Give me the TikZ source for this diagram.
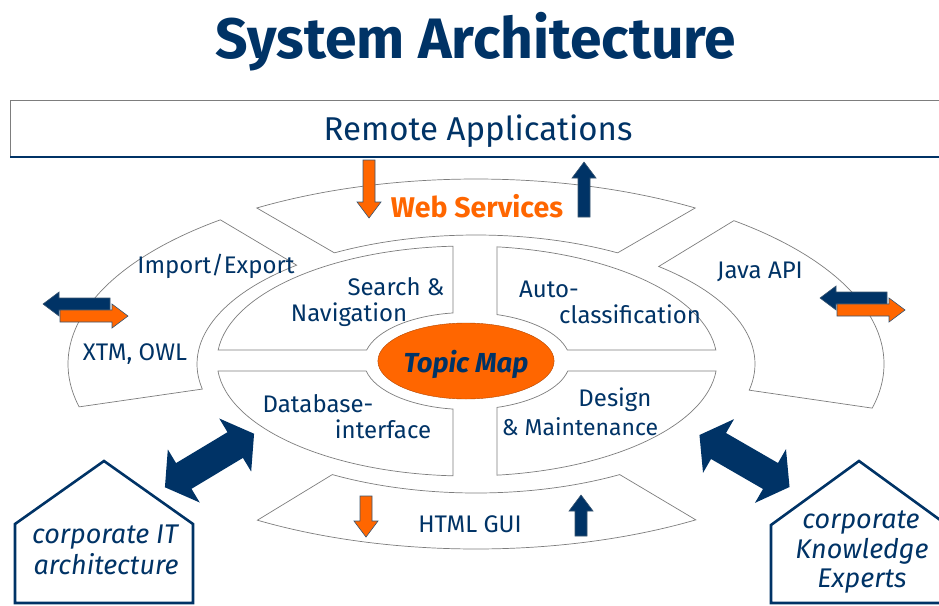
\documentclass[tikz,border=0pt]{standalone}
\usepackage{fontspec}
\setmainfont{Fira Sans}
\usetikzlibrary{shapes.geometric}
\definecolor{navy}{RGB}{0,51,102}
\definecolor{orng}{RGB}{255,102,0}
\definecolor{rim}{RGB}{125,125,125}

\begin{document}
\begin{tikzpicture}[x=1pt, y=-1pt,
    rim/.style={draw=rim, line width=0.7pt, fill=white},
    lbl/.style={text=navy, inner sep=0pt, anchor=base, font=\fontsize{24}{28}\selectfont},
    housetxt/.style={lbl, font=\fontsize{27}{31}\selectfont\itshape},
    house/.style={draw=navy, line width=2.6pt, fill=white},
    pics/barrow/.style args={#1/#2}{code={%
      \filldraw[fill=#2, draw=navy!55!gray, line width=0.6pt]
        (0,-6) -- (#1-16,-6) -- (#1-16,-12) -- (#1,0) -- (#1-16,12) -- (#1-16,6) -- (0,6) -- cycle;}},
    pics/dblarrow/.style={code={%
      \fill[navy] (-52,0) -- (-30,-31) -- (-30,-15) -- (30,-15) -- (30,-31) -- (52,0)
        -- (30,31) -- (30,15) -- (-30,15) -- (-30,31) -- cycle;}}]
  \useasboundingbox (0,0) rectangle (939,605);

  % title and remote box
  \node[lbl, font=\fontsize{57}{64}\selectfont\bfseries] (title) at (476,58) {System Architecture};
  \draw[rim] (10,100) rectangle (960,157);
  \draw[navy, line width=1.4pt] (10,157) -- (960,157);
  \node[lbl, font=\fontsize{33}{39}\selectfont] (remote) at (478,140) {Remote Applications};

  % outer ring
  \begin{scope}[shift={(476,364)}]
    \draw[rim] (237.5:408 and 185) arc[start angle=237.5, end angle=302.5, x radius=408, y radius=185]
      -- (300.5:279 and 129) arc[start angle=300.5, end angle=239.5, x radius=279, y radius=129] -- cycle;
    \draw[rim] (166.6:408 and 185) arc[start angle=166.6, end angle=231.2, x radius=408, y radius=185]
      -- (230:279 and 129) arc[start angle=230, end angle=168.8, x radius=279, y radius=129] -- cycle;
    \draw[rim] (-50.8:408 and 185) arc[start angle=-50.8, end angle=13.8, x radius=408, y radius=185]
      -- (11.7:279 and 129) arc[start angle=11.7, end angle=-49.1, x radius=279, y radius=129] -- cycle;
    \draw[rim] (57.4:408 and 185) arc[start angle=57.4, end angle=122.4, x radius=408, y radius=185]
      -- (121:279 and 129) arc[start angle=121, end angle=59, x radius=279, y radius=129] -- cycle;
  \end{scope}

  % four quarters
  \begin{scope}[shift={(467,361)}]
    \draw[rim] (266.8:250 and 115) -- (262.2:103 and 48.5)
      arc[start angle=262.2, end angle=193.1, x radius=103, y radius=48.5]
      -- (185.5:250 and 115) arc[start angle=185.5, end angle=266.8, x radius=250, y radius=115] -- cycle;
    \draw[rim] (276.9:250 and 115) arc[start angle=276.9, end angle=354.5, x radius=250, y radius=115]
      -- (346.9:103 and 48.5) arc[start angle=346.9, end angle=286.9, x radius=103, y radius=48.5] -- cycle;
    \draw[rim] (93.2:250 and 115) arc[start angle=93.2, end angle=175, x radius=250, y radius=115]
      -- (168.1:103 and 48.5) arc[start angle=168.1, end angle=97.8, x radius=103, y radius=48.5] -- cycle;
    \draw[rim] (5:250 and 115) arc[start angle=5, end angle=83.1, x radius=250, y radius=115]
      -- (73.1:103 and 48.5) arc[start angle=73.1, end angle=11.9, x radius=103, y radius=48.5] -- cycle;
  \end{scope}

  \node[ellipse, fill=orng, draw=orng!70!black, line width=0.4pt, minimum width=166pt, minimum height=76pt,
    inner sep=0pt, text depth=0pt, text=navy, font=\fontsize{27.5}{32}\selectfont\bfseries\itshape]
    (topic) at (466,361) {Topic Map};

  % labels
  \node[lbl, text=orng, font=\fontsize{28.5}{33}\selectfont\bfseries] (web) at (477,217) {Web Services};
  \node[lbl] (impexp) at (216,273) {Import/Export};
  \node[lbl] (xtm) at (135,360) {XTM, OWL};
  \node[lbl] (java) at (760,278) {Java API};
  \node[lbl] (search) at (396,295) {Search \&};
  \node[lbl] (navig) at (349,321) {Navigation};
  \node[lbl] (auto) at (549,297) {Auto-};
  \node[lbl] (classif) at (630,323) {classification};
  \node[lbl] (dbase) at (318,412) {Database-};
  \node[lbl] (iface) at (383,438) {interface};
  \node[lbl] (design) at (615,406) {Design};
  \node[lbl, font=\fontsize{23}{27}\selectfont] (maint) at (580,435) {\& Maintenance};
  \node[lbl] (html) at (470,532) {HTML GUI};

  % small arrows
  \pic[rotate=-90] at (369,160) {barrow=58/orng};
  \pic[rotate=90] at (584,217) {barrow=55/navy};
  \pic[rotate=-90] at (366,496) {barrow=41/orng};
  \pic[rotate=90] at (581,536) {barrow=41/navy};
  \pic[rotate=180] at (110,304) {barrow=67/navy};
  \pic at (60,316) {barrow=68/orng};
  \pic[rotate=180] at (887,298) {barrow=67/navy};
  \pic at (837,310) {barrow=68/orng};

  % houses
  \draw[house] (15,603) -- (15,524) -- (104,461) -- (193,524) -- (193,603) -- cycle;
  \draw[house] (771,603) -- (771,525) -- (859,461) -- (947,525) -- (947,603) -- cycle;
  \node[housetxt] (corpit) at (105,543) {corporate IT};
  \node[housetxt] (archi) at (106,574) {architecture};
  \node[housetxt] (corpke) at (861,528) {corporate};
  \node[housetxt] (knowl) at (862,558) {Knowledge};
  \node[housetxt] (expert) at (862,587) {Experts};

  % big double arrows
  \pic[rotate=31] at (209.5,460.5) {dblarrow};
  \pic[rotate=-30] at (744.5,461) {dblarrow};
\end{tikzpicture}
\end{document}
